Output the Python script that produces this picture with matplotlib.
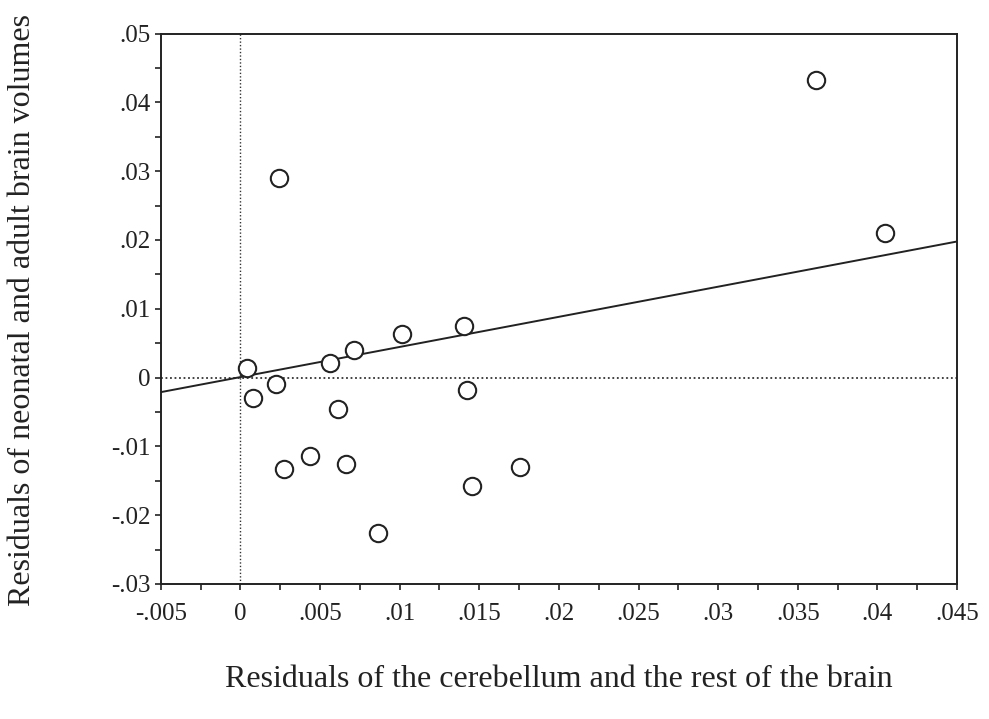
import matplotlib
matplotlib.use("Agg")
import matplotlib.pyplot as plt
from matplotlib.ticker import MultipleLocator
import numpy as np

# Data
x_resid = [0.03612, 0.04046, 0.00241, 0.00042, 0.00079, 0.00222, 0.00562, 0.00711,
           0.01014, 0.01403, 0.01421, 0.00612, 0.00274, 0.00440, 0.00664, 0.00862,
           0.01453, 0.01757]
y_resid = [0.04327, 0.02100, 0.02900, 0.00137, -0.00290, -0.00096, 0.00218, 0.00407,
           0.00640, 0.00751, -0.00179, -0.00450, -0.01331, -0.01142, -0.01254, -0.02262,
           -0.01570, -0.01302]
fit_slope = 0.438
fit_intercept = 0.00007

x_ticks = [-0.005, 0, 0.005, 0.01, 0.015, 0.02, 0.025, 0.03, 0.035, 0.04, 0.045]
x_tick_labels = ["-.005", "0", ".005", ".01", ".015", ".02", ".025", ".03", ".035", ".04", ".045"]
y_ticks = [-0.03, -0.02, -0.01, 0, 0.01, 0.02, 0.03, 0.04, 0.05]
y_tick_labels = ["-.03", "-.02", "-.01", "0", ".01", ".02", ".03", ".04", ".05"]

plt.rcParams['font.family'] = ['Liberation Serif', 'DejaVu Serif']

fig = plt.figure(figsize=(9.89, 7.19), dpi=100)
ax = fig.add_axes([0.1625, 0.1878, 0.8052, 0.7655])

ax.set_xlim(-0.005, 0.045)
ax.set_ylim(-0.03, 0.05)

ax.axvline(0, color='#333333', linestyle=(0, (1, 1.5)), linewidth=1.0, zorder=1)
ax.axhline(0, color='#333333', linestyle=(0, (1, 1.5)), linewidth=1.3, zorder=1)

xl = np.array([-0.005, 0.045])
ax.plot(xl, fit_intercept + fit_slope * xl, color='#222222', linewidth=1.4, zorder=2)

ax.plot(x_resid, y_resid, linestyle='none', marker='o', markersize=12.5,
        markerfacecolor='white', markeredgecolor='#222222', markeredgewidth=1.5, zorder=3)

ax.set_xticks(x_ticks)
ax.set_xticklabels(x_tick_labels)
ax.set_yticks(y_ticks)
ax.set_yticklabels(y_tick_labels)
ax.xaxis.set_minor_locator(MultipleLocator(0.0025))
ax.yaxis.set_minor_locator(MultipleLocator(0.005))
ax.tick_params(axis='both', which='both', direction='out', length=4.5, width=1.2,
               colors='#222222', labelsize=18)
ax.tick_params(axis='x', which='major', pad=9)
ax.tick_params(axis='y', which='major', pad=3)
for s in ax.spines.values():
    s.set_linewidth(1.4)
    s.set_color('#222222')

ax.set_xlabel("Residuals of the cerebellum and the rest of the brain", fontsize=23,
              color='#222222', va='center')
ax.set_ylabel("Residuals of neonatal and adult brain volumes", fontsize=23,
              color='#222222', va='center', ha='center')
ax.xaxis.set_label_coords(0.5, -0.174)
ax.yaxis.set_label_coords(-0.174, 0.497)

fig.savefig("out.png", dpi=100)
